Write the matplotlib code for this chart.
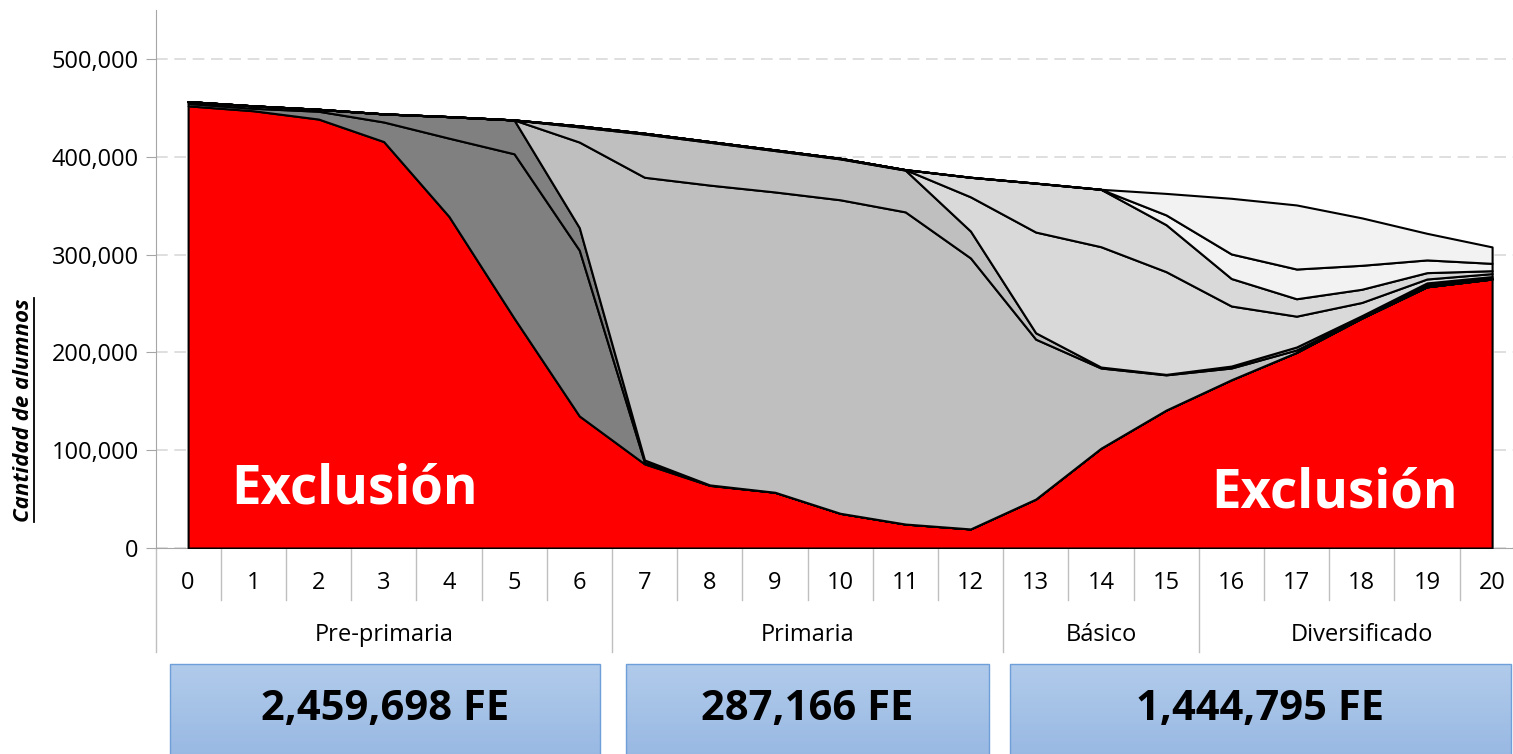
import matplotlib
matplotlib.use("Agg")
import matplotlib.pyplot as plt
import matplotlib.transforms as mtransforms
from matplotlib.patches import Rectangle
from matplotlib.ticker import FuncFormatter, MultipleLocator
import numpy as np

plt.rcParams['font.family'] = ['Open Sans', 'DejaVu Sans']

# ages / grades on the x axis
ages = list(range(21))

# cumulative tops of each stacked layer (thousands of students)
exclusion = [452, 447, 438.5, 415.5, 339, 235, 135, 86, 64, 57, 35.5, 24.5, 19.5,
             50, 102, 141, 172, 200, 235, 267, 275]
preprimaria_1 = [454.5, 449.5, 446.5, 435.5, 419, 403, 304.5, 87.5, 64.2, 57, 35.5, 24.5, 19.5,
                 50, 102, 141, 172, 200, 235, 267, 275]
preprimaria_2 = [456.4, 452, 448.5, 443.8, 441, 437.6, 327.5, 90, 64.5, 57, 35.5, 24.5, 19.5,
                 50, 102, 141, 172, 200, 235, 267, 275]
primaria_1 = [456.4, 452, 448.5, 443.8, 441, 437.6, 415, 379, 371, 364, 356, 343.6, 296.5,
              213.5, 184, 177, 184, 202.5, 236, 269, 276]
primaria_2 = [456.4, 452, 448.5, 443.8, 441, 437.6, 430.5, 423.2, 414.8, 406.3, 397.8, 386.3, 324,
              220, 185, 177.5, 186, 205.5, 237.5, 271, 277.5]
basico_1 = [456.4, 452, 448.5, 443.8, 441, 437.6, 431.5, 424, 415.5, 407, 398.4, 386.8, 359,
            323, 308, 282.5, 247.4, 237, 251, 275, 280.5]
basico_2 = [456.4, 452, 448.5, 443.8, 441, 437.6, 431.5, 424, 415.5, 407, 398.4, 386.8, 379,
            373, 366.7, 330.5, 275.5, 254.8, 264.5, 281.5, 283.5]
diversificado_1 = [456.4, 452, 448.5, 443.8, 441, 437.6, 431.5, 424, 415.5, 407, 398.4, 386.8, 379,
                   373, 366.7, 340.5, 300.6, 285.2, 289, 294.5, 291]
total = [456.4, 452, 448.5, 443.8, 441, 437.6, 431.5, 424, 415.5, 407, 398.4, 386.8, 379,
         373, 366.7, 362.5, 357.5, 350.7, 337.5, 321.7, 307.8]

levels = ["Pre-primaria", "Primaria", "Básico", "Diversificado"]
level_edges = [-0.5, 6.5, 12.5, 15.5, 20.5]

box_values = [2459698, 287166, 1444795]
box_spans = [(-0.28, 6.32), (6.71, 12.28), (12.6, 20.29)]

tops = [exclusion, preprimaria_1, preprimaria_2, primaria_1, primaria_2,
        basico_1, basico_2, diversificado_1, total]
colors = ['#ff0000', '#808080', '#808080', '#bfbfbf', '#bfbfbf',
          '#d9d9d9', '#d9d9d9', '#f2f2f2', '#f2f2f2']

x = np.array(ages)
fig = plt.figure(figsize=(15.13, 7.54), dpi=100)
ax = fig.add_axes([155.5 / 1513, 206 / 754, 1369.2 / 1513, 538 / 754])

lower = np.zeros(len(x))
for top, c in zip(tops, colors):
    upper = np.array(top) * 1000
    ax.fill_between(x, lower, upper, facecolor=c, edgecolor='black', linewidth=1.5, zorder=3)
    lower = upper

ax.set_xlim(-0.5, 20.5)
ax.set_ylim(0, 550000)
ax.yaxis.set_major_locator(MultipleLocator(100000))
ax.yaxis.set_major_formatter(FuncFormatter(lambda v, p: f"{int(v):,}"))
ax.yaxis.grid(True, linestyle=(0, (7, 4)), color='#d9d9d9', linewidth=1.2)
ax.set_axisbelow(True)
for s in ['top', 'right']:
    ax.spines[s].set_visible(False)
ax.spines['left'].set_color('#a6a6a6')
ax.spines['bottom'].set_color('#a6a6a6')
ax.tick_params(axis='y', direction='out', length=7, color='#a6a6a6', labelsize=17, pad=5)
ax.set_xticks([])

trans = mtransforms.blended_transform_factory(ax.transData, ax.transAxes)
for a in ages:
    ax.text(a, -0.065, str(a), transform=trans, ha='center', va='center', fontsize=17)
for i in range(len(ages) - 1):
    edge = i + 0.5
    if edge not in level_edges:
        ax.plot([edge, edge], [0, -0.0967], transform=trans, color='#bfbfbf', lw=1, clip_on=False)
for edge in level_edges:
    ax.plot([edge, edge], [0, -0.1933], transform=trans, color='#bfbfbf', lw=1, clip_on=False)
for name, a, b in zip(levels, level_edges[:-1], level_edges[1:]):
    ax.text((a + b) / 2, -0.1617, name, transform=trans, ha='center', va='center', fontsize=17)

ax.text(2.56, 46000, 'Exclusión', color='white', fontsize=38, fontweight='bold',
        ha='center', va='baseline', zorder=5)
ax.text(17.58, 41000, 'Exclusión', color='white', fontsize=38, fontweight='bold',
        ha='center', va='baseline', zorder=5)

# gradient boxes under the axis
top_c = np.array([176, 202, 234]) / 255
bot_c = np.array([148, 181, 225]) / 255
y_top, y_bot = -0.2156, -0.42
n = 40
for (a, b), v in zip(box_spans, box_values):
    for k in range(n):
        t = k / (n - 1)
        y0 = y_top + (y_bot - y_top) * (k + 1) / n
        ax.add_patch(Rectangle((a, y0), b - a, (y_top - y_bot) / n, transform=trans,
                               facecolor=top_c + (bot_c - top_c) * t, edgecolor='none',
                               clip_on=False))
    ax.add_patch(Rectangle((a, y_bot), b - a, y_top - y_bot, transform=trans,
                           facecolor='none', edgecolor='#6f9fd8', lw=1, clip_on=False))
    ax.text((a + b) / 2, -0.3197, f"{v:,} FE", transform=trans, ha='center', va='baseline',
            fontsize=30, fontweight='bold')

ylab = fig.text(24 / 1513, 1 - 410 / 754, 'Cantidad de alumnos', rotation=90,
                ha='center', va='center', fontsize=16, fontweight='bold', style='italic')
fig.canvas.draw()
bb = ylab.get_window_extent()
W, H = fig.bbox.width, fig.bbox.height
fig.add_artist(plt.Line2D([(bb.x1 - 1) / W] * 2, [bb.y0 / H, bb.y1 / H], color='black', lw=1.3))

fig.savefig('out.png', dpi=100)
